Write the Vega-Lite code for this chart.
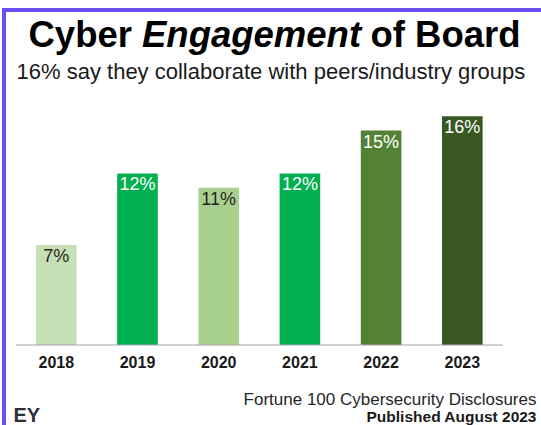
{
  "$schema": "https://vega.github.io/schema/vega-lite/v6.json",
  "width": 540,
  "height": 425,
  "autosize": {"type": "none"},
  "padding": {"left": 4, "top": 10, "right": -3, "bottom": -10},
  "background": "white",
  "config": {
    "font": "Liberation Sans",
    "view": {"stroke": "#6c4ef2", "strokeWidth": 4},
    "axis": {"grid": false, "domain": false, "ticks": false, "labels": false}
  },
  "data": {
    "values": [
      {"year": "2018", "value": 0.07},
      {"year": "2019", "value": 0.12},
      {"year": "2020", "value": 0.11},
      {"year": "2021", "value": 0.12},
      {"year": "2022", "value": 0.15},
      {"year": "2023", "value": 0.16}
    ]
  },
  "layer": [
    {
      "mark": {"type": "bar"},
      "encoding": {
        "x": {
          "field": "year", "type": "ordinal",
          "scale": {"domain": ["2018", "2019", "2020", "2021", "2022", "2023"], "paddingInner": 0.5, "paddingOuter": 0.5751, "align": 0.3426},
          "axis": {
            "orient": "bottom", "offset": -90, "labels": true, "labelAngle": 0,
            "labelFontSize": 16, "labelFontWeight": "bold", "labelColor": "#1a1a1a", "labelPadding": 9,
            "title": "Fortune 100 Cybersecurity Disclosures",
            "titleX": 532, "titleY": 59, "titleAlign": "right", "titleBaseline": "alphabetic",
            "titleFontSize": 17, "titleFontWeight": "normal", "titleColor": "#262626"
          }
        },
        "y": {
          "field": "value", "type": "quantitative",
          "scale": {"domain": [-0.06294, 0.23427], "nice": false, "zero": false},
          "axis": {
            "orient": "left", "title": "Cyber", "titleAngle": 0,
            "titleX": 24, "titleY": 36, "titleAlign": "left", "titleBaseline": "alphabetic",
            "titleFontSize": 36.5, "titleFontWeight": "bold", "titleColor": "#000000"
          }
        },
        "y2": {"datum": 0},
        "color": {
          "field": "year", "type": "nominal",
          "scale": {"domain": ["2018", "2019", "2020", "2021", "2022", "2023"], "range": ["#c5e0b4", "#00b050", "#a9d18e", "#00b050", "#548235", "#385723"]},
          "legend": null
        }
      }
    },
    {
      "mark": {"type": "text", "baseline": "top", "dy": 3, "fontSize": 18, "align": "center"},
      "encoding": {
        "x": {
          "field": "year", "type": "ordinal",
          "axis": {
            "orient": "bottom", "offset": 0,
            "title": "Published August 2023",
            "titleX": 532, "titleY": -14, "titleAlign": "right", "titleBaseline": "alphabetic",
            "titleFontSize": 15.5, "titleFontWeight": "bold", "titleColor": "#1a1a1a"
          }
        },
        "y": {
          "field": "value", "type": "quantitative",
          "axis": {
            "orient": "left", "title": "Engagement", "titleAngle": 0,
            "titleX": 137.5, "titleY": 36, "titleAlign": "left", "titleBaseline": "alphabetic",
            "titleFontSize": 36.5, "titleFontWeight": "bold", "titleFontStyle": "italic", "titleColor": "#000000"
          }
        },
        "text": {"field": "value", "type": "quantitative", "format": ".0%"},
        "color": {
          "condition": {"test": "datum.year === '2018' || datum.year === '2020'", "value": "#262626"},
          "value": "#ffffff"
        }
      }
    },
    {
      "mark": {"type": "tick", "orient": "horizontal", "size": 81.2, "thickness": 1.5, "color": "#a6a6a6"},
      "encoding": {
        "x": {
          "field": "year", "type": "ordinal",
          "axis": {
            "orient": "top",
            "title": "16% say they collaborate with peers/industry groups",
            "titleX": 266.4, "titleY": 68.3, "titleAlign": "center", "titleBaseline": "alphabetic",
            "titleFontSize": 22, "titleFontWeight": "normal", "titleColor": "#1a1a1a"
          }
        },
        "y": {"datum": 0, "axis": null}
      }
    },
    {
      "data": {"values": []},
      "mark": {"type": "point", "opacity": 0},
      "encoding": {
        "x": {
          "field": "year", "type": "ordinal",
          "axis": {
            "orient": "bottom", "offset": 0,
            "title": "EY",
            "titleX": 9, "titleY": -14, "titleAlign": "left", "titleBaseline": "alphabetic",
            "titleFontSize": 20, "titleFontWeight": "bold", "titleColor": "#2e2e38"
          }
        },
        "y": {
          "field": "value", "type": "quantitative",
          "axis": {
            "orient": "left", "title": "of Board", "titleAngle": 0,
            "titleX": 366, "titleY": 36, "titleAlign": "left", "titleBaseline": "alphabetic",
            "titleFontSize": 36.5, "titleFontWeight": "bold", "titleColor": "#000000"
          }
        }
      }
    }
  ],
  "resolve": {"axis": {"x": "independent", "y": "independent"}}
}
